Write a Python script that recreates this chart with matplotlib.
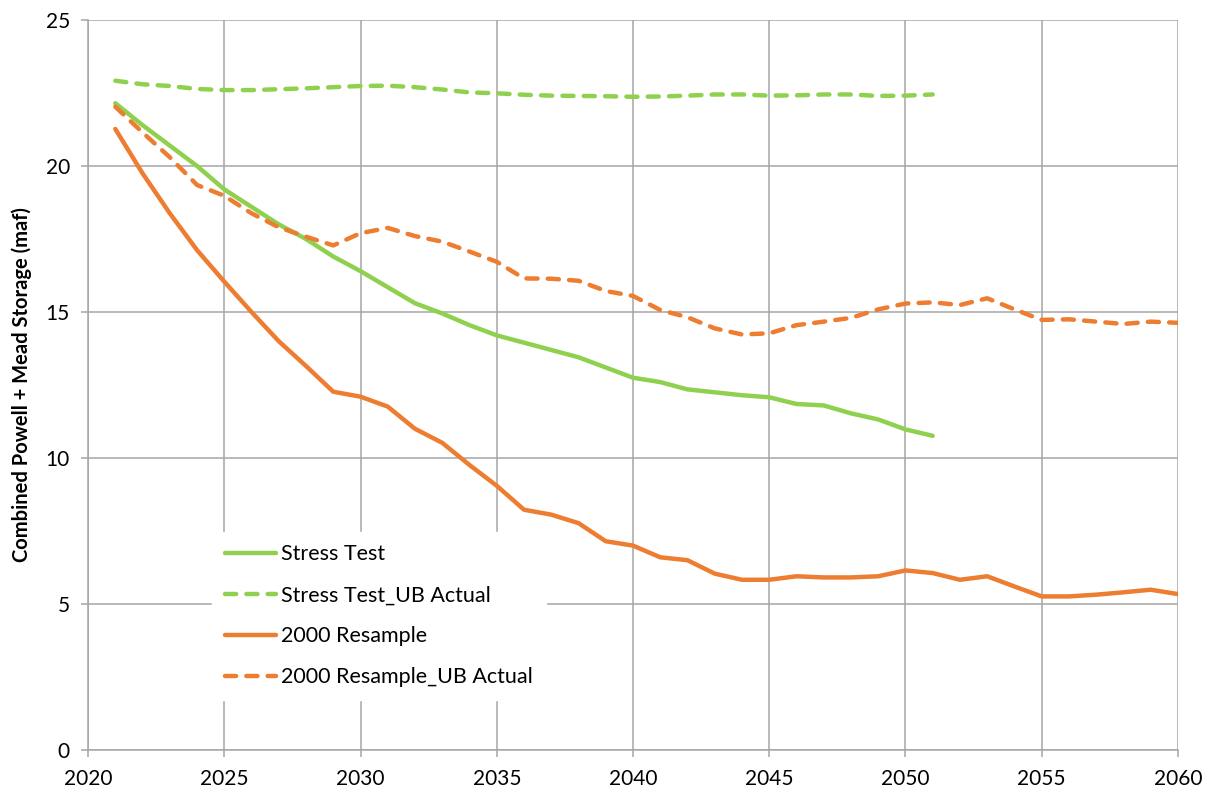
import numpy as np
import matplotlib
matplotlib.use("Agg")
import matplotlib.pyplot as plt

# Datos
years_st = list(range(2021, 2052))
years_rs = list(range(2021, 2061))

stress_test = [22.15, 21.4, 20.7, 20.0, 19.2, 18.6, 18.0, 17.5, 16.9, 16.4,
               15.85, 15.3, 14.95, 14.55, 14.2, 13.95, 13.7, 13.45, 13.1, 12.75,
               12.6, 12.35, 12.25, 12.15, 12.08, 11.85, 11.8, 11.53, 11.32, 10.98,
               10.76]

stress_test_ub = [22.92, 22.8, 22.74, 22.64, 22.6, 22.6, 22.63, 22.66, 22.7, 22.74,
                  22.75, 22.7, 22.62, 22.52, 22.49, 22.44, 22.41, 22.4, 22.39, 22.37,
                  22.38, 22.41, 22.45, 22.45, 22.41, 22.42, 22.45, 22.45, 22.4, 22.41,
                  22.45]

resample = [21.27, 19.75, 18.38, 17.12, 16.04, 15.0, 14.0, 13.15, 12.27, 12.1,
            11.76, 11.0, 10.52, 9.76, 9.05, 8.23, 8.06, 7.77, 7.15, 7.0,
            6.6, 6.5, 6.04, 5.83, 5.83, 5.95, 5.91, 5.91, 5.95, 6.15,
            6.06, 5.83, 5.95, 5.6, 5.26, 5.26, 5.32, 5.4, 5.49, 5.34]

resample_ub = [22.03, 21.15, 20.3, 19.35, 18.98, 18.38, 17.9, 17.58, 17.28, 17.7,
               17.88, 17.6, 17.41, 17.07, 16.72, 16.15, 16.14, 16.07, 15.72, 15.55,
               15.07, 14.82, 14.44, 14.23, 14.27, 14.55, 14.67, 14.8, 15.09, 15.29,
               15.33, 15.24, 15.47, 15.09, 14.73, 14.75, 14.67, 14.59, 14.67, 14.63]

x_ticks = [2020, 2025, 2030, 2035, 2040, 2045, 2050, 2055, 2060]
y_ticks = [0, 5, 10, 15, 20, 25]

GREEN = '#8FD14F'
ORANGE = '#ED7D31'
GRID = '#A6A6A6'

plt.rcParams['font.family'] = ['Lato', 'DejaVu Sans']

fig = plt.figure(figsize=(12.11, 7.94), dpi=100)
ax = fig.add_axes([0.0727, 0.0554, 0.9, 0.9194])

lw = 3.2
ax.plot(years_st, stress_test, color=GREEN, lw=lw, label='Stress Test',
        solid_capstyle='round', zorder=3)
ax.plot(years_st, stress_test_ub, color=GREEN, lw=lw, label='Stress Test_UB Actual',
        dashes=(2.5, 2.3), dash_capstyle='round', zorder=3)
ax.plot(years_rs, resample, color=ORANGE, lw=lw, label='2000 Resample',
        solid_capstyle='round', zorder=3)
ax.plot(years_rs, resample_ub, color=ORANGE, lw=lw, label='2000 Resample_UB Actual',
        dashes=(2.5, 2.3), dash_capstyle='round', zorder=3)

ax.set_xlim(2020, 2060)
ax.set_ylim(0, 25)
ax.set_xticks(x_ticks)
ax.set_yticks(y_ticks)
ax.grid(True, color=GRID, lw=1.1, zorder=0)
ax.set_axisbelow(True)
for side in ['top', 'right']:
    ax.spines[side].set_visible(False)
for side in ['left', 'bottom']:
    ax.spines[side].set_color(GRID)
    ax.spines[side].set_linewidth(1.1)
ax.tick_params(axis='both', colors=GRID, length=5, width=1.1, labelsize=15,
               labelcolor='black')
ax.tick_params(axis='x', pad=9)
ax.tick_params(axis='y', pad=8)
ax.set_ylabel('Combined Powell + Mead Storage (maf)', fontsize=14.5, fontweight='bold',
              labelpad=10)

leg = ax.legend(loc='upper left', bbox_to_anchor=(0.104, 0.314), frameon=True,
                fontsize=15.5, handlelength=2.35, labelspacing=0.97,
                handletextpad=0.25, borderpad=0.6, fancybox=False)
leg.get_frame().set_facecolor('white')
leg.get_frame().set_edgecolor('white')
leg.get_frame().set_alpha(1.0)
leg.set_zorder(5)

fig.savefig('out.png', dpi=100)
